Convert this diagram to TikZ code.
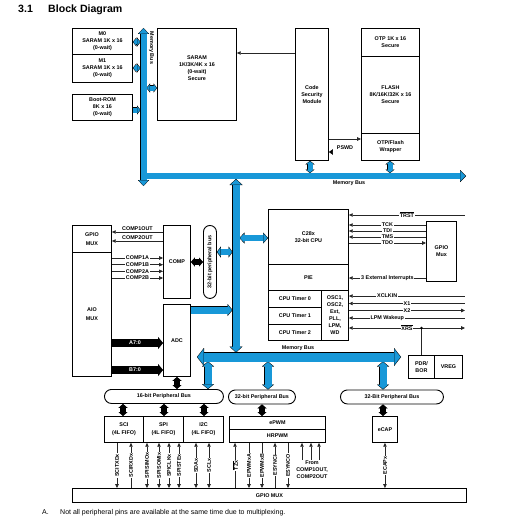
\documentclass[tikz,border=0pt]{standalone}
\usepackage{fontspec}
\setmainfont{Liberation Sans}
\usetikzlibrary{arrows.meta}
\definecolor{busblue}{RGB}{24,152,216}
\newcommand\dfs{\fontsize{5.4}{7}\selectfont\bfseries}
\newif\ifouterpass
\newcommand\fat[6]{%
  \pgfmathsetmacro\fatOW{#3+0.9}%
  \pgfmathsetmacro\fatIL{#5-1.0}%
  \pgfmathsetmacro\fatIW{#4*(#5-1.0)/#5}%
  \ifouterpass
    \draw[line width=\fatOW pt, draw=black, >={Triangle[width=#4pt,length=#5pt,line width=0.01pt]}, #2] #6;
  \else
    \draw[line width=#3pt, draw=#1, >={Triangle[width=\fatIW pt,length=\fatIL pt,line width=0.01pt]}, #2] #6;
  \fi}
\begin{document}
\begin{tikzpicture}[x=1pt,y=-1pt,
  blk/.style={draw, line width=0.9pt, inner sep=0pt, align=center, font=\dfs, anchor=north west},
  pbus/.style={blk, rounded corners=7pt, minimum height=14pt},
  sig/.style={draw=black!85, line width=0.55pt, >={Triangle[width=3.4pt,length=3.8pt]}},
  lbl/.style={font=\dfs, fill=white, inner sep=0.7pt},
  vlbl/.style={lbl, rotate=90}]
\useasboundingbox (0,0) rectangle (509,519);

% title
\node[anchor=base west, font=\fontsize{10.6}{12}\selectfont\bfseries, inner sep=0] (t31) at (18,13) {3.1};
\node[anchor=base west, font=\fontsize{10.6}{12}\selectfont\bfseries, inner sep=0] (ttl) at (48,13) {Block Diagram};

% memory blocks
\node[blk,minimum width=60pt,minimum height=26pt] (m0) at (72,28) {M0\\SARAM 1K x 16\\(0-wait)};
\node[blk,minimum width=60pt,minimum height=28pt] (m1) at (72,54) {M1\\SARAM 1K x 16\\(0-wait)};
\node[blk,minimum width=60pt,minimum height=26pt] (brom) at (72,94) {Boot-ROM\\8K x 16\\(0-wait)};
\node[blk,minimum width=79pt,minimum height=92pt] (saram) at (157,28) {SARAM\\1K/3K/4K x 16\\(0-wait)\\Secure\\[6pt]};
\node[blk,minimum width=33pt,minimum height=132pt] (csm) at (295,28) {Code\\Security\\Module};
\node[blk,minimum width=58pt,minimum height=28pt] (otp) at (361,28) {OTP 1K x 16\\Secure};
\node[blk,minimum width=58pt,minimum height=77pt] (flash) at (361,56) {FLASH\\8K/16K/32K x 16\\Secure};
\node[blk,minimum width=58pt,minimum height=27pt] (wrap) at (361,133) {OTP/Flash\\Wrapper};
\node[font=\dfs, rotate=-90] (mbv) at (151.5,48) {Memory Bus};
\node[font=\dfs] (mbh) at (349,183.5) {Memory Bus};

% analog side
\node[blk,minimum width=39pt,minimum height=27pt] (gpiol) at (72,225) {GPIO\\[2pt]MUX};
\node[blk,minimum width=39pt,minimum height=124pt] (aio) at (72,252) {AIO\\[2pt]MUX};
\node[blk,minimum width=27pt,minimum height=73pt] (comp) at (163,225) {COMP};
\node[blk,minimum width=27pt,minimum height=72pt] (adc) at (163,304) {ADC};
\node[draw,line width=0.9pt,rounded corners=6.5pt,minimum width=13pt,minimum height=73pt,anchor=north west,inner sep=0] (p32v) at (203,225) {};
\node[rotate=90,font=\dfs] (p32vt) at (p32v.center) {32-bit peripheral bus};

% CPU
\node[blk,minimum width=80pt,minimum height=55pt] (cpu) at (268,209) {C28x\\32-bit CPU};
\node[blk,minimum width=80pt,minimum height=26pt] (pie) at (268,264) {PIE};
\node[blk,minimum width=53pt,minimum height=17pt] (t0) at (268,290) {CPU Timer 0};
\node[blk,minimum width=53pt,minimum height=17pt] (t1) at (268,307) {CPU Timer 1};
\node[blk,minimum width=53pt,minimum height=16pt] (t2) at (268,324) {CPU Timer 2};
\node[blk,minimum width=27pt,minimum height=50pt] (osc) at (321,290) {OSC1,\\OSC2,\\Ext,\\PLL,\\LPM,\\WD};
\node[blk,minimum width=30pt,minimum height=60pt] (gpior) at (426,221) {GPIO\\Mux};
\node[blk,minimum width=26pt,minimum height=23pt] (pdr) at (408,355) {PDR/\\BOR};
\node[blk,minimum width=28pt,minimum height=23pt] (vreg) at (434,355) {VREG};
\node[font=\dfs] (mbl) at (298,348) {Memory Bus};

% peripheral buses and peripherals
\node[pbus,minimum width=119pt] (p16) at (104,389) {16-bit Peripheral Bus};
\node[pbus,minimum width=67pt] (p32m) at (228,389.5) {32-bit Peripheral Bus};
\node[pbus,minimum width=103pt] (p32r) at (340,389.5) {32-Bit Peripheral Bus};
\node[blk,minimum width=39pt,minimum height=26pt] (sci) at (104,416) {SCI\\[1pt](4L FIFO)};
\node[blk,minimum width=40pt,minimum height=26pt] (spi) at (143,416) {SPI\\[1pt](4L FIFO)};
\node[blk,minimum width=40pt,minimum height=26pt] (iic) at (183,416) {I2C\\[1pt](4L FIFO)};
\node[blk,minimum width=96pt,minimum height=13pt] (epwm) at (229,416) {ePWM};
\node[blk,minimum width=96pt,minimum height=13pt] (hrpwm) at (229,429) {HRPWM};
\node[blk,minimum width=25pt,minimum height=26pt] (ecap) at (372,416) {eCAP};
\node[blk,minimum width=394pt,minimum height=14pt] (gmux) at (72,488) {GPIO MUX};

% fat buses (two passes: outline, then fill)
\newcommand\buses{%
 \fat{busblue}{<->,shS,shE}{6}{11}{6}{(143.5,28) -- (143.5,186)}%
 \fat{busblue}{->,shE}{6}{12}{6}{(143.5,176) -- (466,176)}%
 \fat{busblue}{<->,shS,shE}{5}{9}{3.5}{(m0.east|-0,42) -- (140.5,42)}%
 \fat{busblue}{<->,shS,shE}{5}{9}{3.5}{(m1.east|-0,68) -- (140.5,68)}%
 \fat{busblue}{->,shE}{5}{9}{3.5}{(brom.east|-0,110) -- (140.5,110)}%
 \fat{busblue}{<->,shS,shE}{5}{9}{3.5}{(146.5,88) -- (saram.west|-0,88)}%
 \fat{busblue}{<->,shS,shE}{5}{9}{3.5}{(csm.south-|310,0) -- (310,173)}%
 \fat{busblue}{<->,shS,shE}{5}{9}{3.5}{(wrap.south-|390,0) -- (390,173)}%
 \fat{busblue}{<->,shS,shE}{7}{13}{6}{(236,179) -- (236,352.5)}%
 \fat{busblue}{<->,shS,shE}{6}{11}{5}{(239.5,238) -- (cpu.west|-0,238)}%
 \fat{busblue}{<->,shS,shE}{6}{11}{4}{(p32v.east|-0,252) -- (232.5,252)}%
 \fat{busblue}{->,shE}{7}{12}{5}{(adc.east|-0,310) -- (232.5,310)}%
 \fat{busblue}{<->,shS,shE}{9}{18}{7}{(197,357) -- (401,357)}%
 \fat{busblue}{<->,shS,shE}{7}{12}{5}{(208,361.5) -- (p16.north-|208,0)}%
 \fat{busblue}{<->,shS,shE}{7}{12}{5}{(268,361.5) -- (p32m.north-|268,0)}%
 \fat{busblue}{<->,shS,shE}{7}{12}{5}{(383,361.5) -- (p32r.north-|383,0)}%
 \fat{black}{<->,shS,shE}{5}{9}{4}{(comp.east|-0,262) -- (p32v.west|-0,262)}%
 \fat{black}{<->,shS,shE}{5}{9}{4}{(adc.south-|177,0) -- (p16.north-|177,0)}%
 \fat{black}{<->,shS,shE}{5}{9}{4}{(p16.south-|123,0) -- (sci.north-|123,0)}%
 \fat{black}{<->,shS,shE}{5}{9}{4}{(p16.south-|164,0) -- (spi.north-|164,0)}%
 \fat{black}{<->,shS,shE}{5}{9}{4}{(p16.south-|204,0) -- (iic.north-|204,0)}%
 \fat{black}{<->,shS,shE}{5}{9}{4}{(p32m.south-|262,0) -- (epwm.north-|262,0)}%
 \fat{black}{<->,shS,shE}{5}{9}{4}{(p32r.south-|383,0) -- (ecap.north-|383,0)}%
 \fat{black}{->,shE}{7}{12}{5}{(aio.east|-0,343) -- (adc.west|-0,343)}%
 \fat{black}{->,shE}{7}{12}{5}{(aio.east|-0,370) -- (adc.west|-0,370)}%
}
\outerpasstrue
\tikzset{shS/.style={}, shE/.style={}}
\buses
\outerpassfalse
\tikzset{shS/.style={shorten <=0.6pt}, shE/.style={shorten >=0.6pt}}
\buses
\node[font=\dfs, text=white] (a70) at (135,343) {A7:0};
\node[font=\dfs, text=white] (b70) at (135,370) {B7:0};

% memory side signals
\draw[sig,->] (csm.west|-0,53) -- (saram.east|-0,53);
\draw[sig,->] (csm.east|-0,139) -- (wrap.west|-0,139);
\draw[double, double distance=2pt, line width=0.45pt, >={Triangle[width=5.5pt,length=4pt]}, <-] (csm.east|-0,152) -- (wrap.west|-0,152);
\node[font=\dfs] (pswd) at (345,147.5) {PSWD};

% comparator signals
\draw[sig,->] (comp.west|-0,232) -- (gpiol.east|-0,232) node[midway, above, font=\dfs, inner sep=0.8pt] {COMP1OUT};
\draw[sig,->] (comp.west|-0,241) -- (gpiol.east|-0,241) node[midway, above, font=\dfs, inner sep=0.8pt] {COMP2OUT};
\draw[sig,->] (aio.east|-0,258) -- (comp.west|-0,258) node[lbl, midway] {COMP1A};
\draw[sig,->] (aio.east|-0,264.7) -- (comp.west|-0,264.7) node[lbl, midway] {COMP1B};
\draw[sig,->] (aio.east|-0,271.3) -- (comp.west|-0,271.3) node[lbl, midway] {COMP2A};
\draw[sig,->] (aio.east|-0,278) -- (comp.west|-0,278) node[lbl, midway] {COMP2B};

% CPU side signals
\coordinate (ptrst) at (465,215);
\coordinate (pxclk) at (465,296);
\coordinate (px1) at (465,303.5);
\coordinate (px2) at (465,310.5);
\coordinate (plpm) at (465,318);
\coordinate (pxrs) at (465,328);
\coordinate (xrsdot) at (pdr.north|-0,328);
\draw[sig,<-] (cpu.east|-0,215) -- (ptrst) node[lbl, midway] {$\overline{\mbox{TRST}}$};
\draw[sig,<-] (cpu.east|-0,225) -- (gpior.west|-0,225) node[lbl, midway] {TCK};
\draw[sig,<-] (cpu.east|-0,231) -- (gpior.west|-0,231) node[lbl, midway] {TDI};
\draw[sig,<-] (cpu.east|-0,237) -- (gpior.west|-0,237) node[lbl, midway] {TMS};
\draw[sig,->] (cpu.east|-0,243) -- (gpior.west|-0,243) node[lbl, midway] {TDO};
\draw[sig,<-] (pie.east|-0,278) -- (gpior.west|-0,278) node[lbl, midway] {3 External Interrupts};
\draw[sig,<-] (osc.east|-0,296) -- (pxclk) node[lbl, pos=0.33] {XCLKIN};
\draw[sig,<-] (osc.east|-0,303.5) -- (px1) node[lbl, midway] {X1};
\draw[sig,->] (osc.east|-0,310.5) -- (px2) node[lbl, midway] {X2};
\draw[sig,<-] (osc.east|-0,318) -- (plpm) node[lbl, pos=0.33] {LPM Wakeup};
\draw[sig,<->] (osc.east|-0,328) -- (pxrs) node[lbl, midway] {$\overline{\mbox{XRS}}$};
\draw[sig] (xrsdot) -- (pdr.north);
\fill (xrsdot) circle (1.3pt);

% peripheral pins
\draw[sig,->] (sci.south-|117,0) -- (gmux.north-|117,0) node[vlbl, midway] {SCITXDx};
\draw[sig,<-] (sci.south-|131,0) -- (gmux.north-|131,0) node[vlbl, midway] {SCIRXDx};
\draw[sig,<->] (spi.south-|147,0) -- (gmux.north-|147,0) node[vlbl, midway] {SPISIMOx};
\draw[sig,<->] (spi.south-|159,0) -- (gmux.north-|159,0) node[vlbl, midway] {SPISOMIx};
\draw[sig,<->] (spi.south-|169,0) -- (gmux.north-|169,0) node[vlbl, midway] {SPICLKx};
\draw[sig,<->] (spi.south-|179,0) -- (gmux.north-|179,0) node[vlbl, midway] {SPISTEx};
\draw[sig,<->] (iic.south-|196,0) -- (gmux.north-|196,0) node[vlbl, midway] {SDAx};
\draw[sig,<->] (iic.south-|209,0) -- (gmux.north-|209,0) node[vlbl, midway] {SCLx};
\draw[sig,<-] (hrpwm.south-|235,0) -- (gmux.north-|235,0) node[vlbl, midway] {$\overline{\mbox{TZx}}$};
\draw[sig,->] (hrpwm.south-|249,0) -- (gmux.north-|249,0) node[vlbl, midway] {EPWMxA};
\draw[sig,->] (hrpwm.south-|262,0) -- (gmux.north-|262,0) node[vlbl, midway] {EPWMxB};
\draw[sig,<-] (hrpwm.south-|275,0) -- (gmux.north-|275,0) node[vlbl, midway] {ESYNCI};
\draw[sig,->] (hrpwm.south-|288,0) -- (gmux.north-|288,0) node[vlbl, midway] {ESYNCO};
\coordinate (fc1) at (302,460);
\coordinate (fc2) at (311,460);
\coordinate (fc3) at (319,460);
\draw[sig,<-] (hrpwm.south-|302,0) -- (fc1);
\draw[sig,<-] (hrpwm.south-|311,0) -- (fc2);
\draw[sig,<-] (hrpwm.south-|319,0) -- (fc3);
\node[font=\dfs, align=center, anchor=north, inner sep=0] (fromtxt) at (312,461) {From\\COMP1OUT,\\COMP2OUT};
\draw[sig,<->] (ecap.south) -- (gmux.north-|ecap.south) node[vlbl, midway] {ECAPx};

% footnote
\node[anchor=base west, font=\fontsize{7}{8}\selectfont, inner sep=0] (fa) at (42,514) {A.};
\node[anchor=base west, font=\fontsize{7}{8}\selectfont, inner sep=0] (fn) at (60,514) {Not all peripheral pins are available at the same time due to multiplexing.};
\end{tikzpicture}
\end{document}
